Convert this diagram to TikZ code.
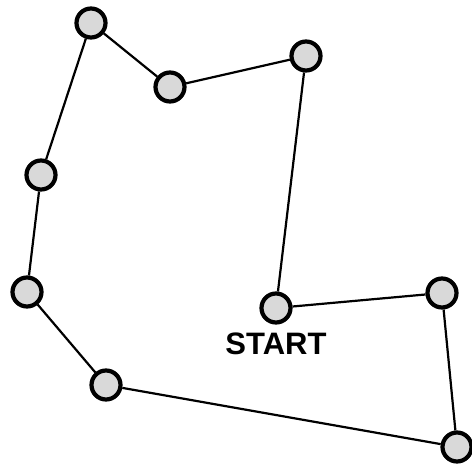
\documentclass[tikz,border=0pt]{standalone}
\usepackage{fontspec}
\setmainfont{Liberation Sans}
\usepackage{tikz}
\usetikzlibrary{positioning}

\begin{document}
\begin{tikzpicture}[x=1pt, y=-1pt, 
    city/.style={circle, draw, line width=4.2pt, fill=black!15, minimum size=29pt, inner sep=0pt},
    route/.style={line width=2.2pt}]
    \useasboundingbox (0,0) rectangle (472,465);
    \node[city] (a) at (91,23) {};
    \node[city] (b) at (170,87) {};
    \node[city] (c) at (306,56) {};
    \node[city] (d) at (41,175) {};
    \node[city] (e) at (27,292) {};
    \node[city] (s) at (276,308) {};
    \node[city] (f) at (442,293) {};
    \node[city] (g) at (106,385) {};
    \node[city] (h) at (457,447) {};
    \node[font=\fontsize{31}{33}\selectfont\bfseries, below=5pt of s] (start) {START};
    \draw[route] (s) -- (c) -- (b) -- (a) -- (d) -- (e) -- (g) -- (h) -- (f) -- (s);
\end{tikzpicture}
\end{document}
